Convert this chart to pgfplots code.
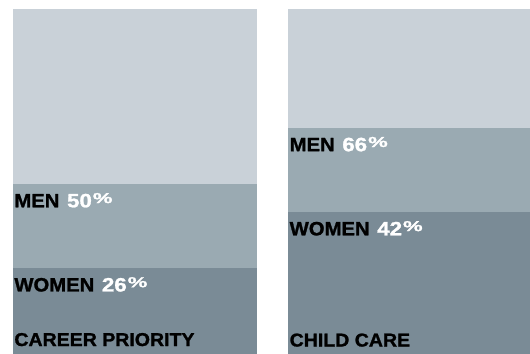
\documentclass[border=0pt]{standalone}
\usepackage{pgfplots}
\pgfplotsset{compat=1.18}
\usepackage{fontspec}
\setmainfont{Liberation Sans}[BoldFeatures={FakeBold=1.3, FakeStretch=1.05}]
\definecolor{ctop}{RGB}{201,209,216}
\definecolor{cmen}{RGB}{154,170,178}
\definecolor{cwom}{RGB}{122,139,150}
\newcommand{\lab}[2]{\fontsize{19.3bp}{20bp}\selectfont\bfseries #1\hspace{2bp} \textcolor{white}{\scalebox{1.1}[1]{#2}\hspace{1bp}\raisebox{4.2bp}{\fontsize{14.5bp}{15bp}\selectfont\scalebox{1.45}[1]{\%}}}}
\newcommand{\ttl}[1]{\fontsize{18.6bp}{20bp}\selectfont\bfseries #1}
\pgfplotsset{
  panel/.style={
    anchor=south west, scale only axis, height=345bp,
    axis lines=none, xmin=0, xmax=1, ymin=1.6, ymax=100,
    ticks=none, clip=true,
  },
}
\begin{document}
\begin{tikzpicture}
\path[use as bounding box] (0,0) rectangle (530bp,354bp);
% Career priority
\begin{axis}[panel, at={(13bp,0)}, width=244bp]
\addplot[fill=ctop, draw=none] coordinates {(0,100) (1,100)} \closedcycle;
\addplot[fill=cmen, draw=none] coordinates {(0,50) (1,50)} \closedcycle;
\addplot[fill=cwom, draw=none] coordinates {(0,26) (1,26)} \closedcycle;
\node[anchor=base west, inner sep=0, xshift=1.2bp, yshift=-23bp] at (axis cs:0,50) {\lab{MEN}{50}};
\node[anchor=base west, inner sep=0, xshift=1.2bp, yshift=-23bp] at (axis cs:0,26) {\lab{WOMEN}{26}};
\node[anchor=base west, inner sep=0, xshift=1.2bp, yshift=8bp] at (rel axis cs:0,0) {\ttl{CAREER PRIORITY}};
\end{axis}
% Child care
\begin{axis}[panel, at={(288bp,0)}, width=242bp]
\addplot[fill=ctop, draw=none] coordinates {(0,100) (1,100)} \closedcycle;
\addplot[fill=cmen, draw=none] coordinates {(0,66) (1,66)} \closedcycle;
\addplot[fill=cwom, draw=none] coordinates {(0,42) (1,42)} \closedcycle;
\node[anchor=base west, inner sep=0, xshift=1.5bp, yshift=-23bp] at (axis cs:0,66) {\lab{MEN}{66}};
\node[anchor=base west, inner sep=0, xshift=1.5bp, yshift=-23bp] at (axis cs:0,42) {\lab{WOMEN}{42}};
\node[anchor=base west, inner sep=0, xshift=1.5bp, yshift=7.5bp] at (rel axis cs:0,0) {\ttl{CHILD CARE}};
\end{axis}
\end{tikzpicture}
\end{document}
